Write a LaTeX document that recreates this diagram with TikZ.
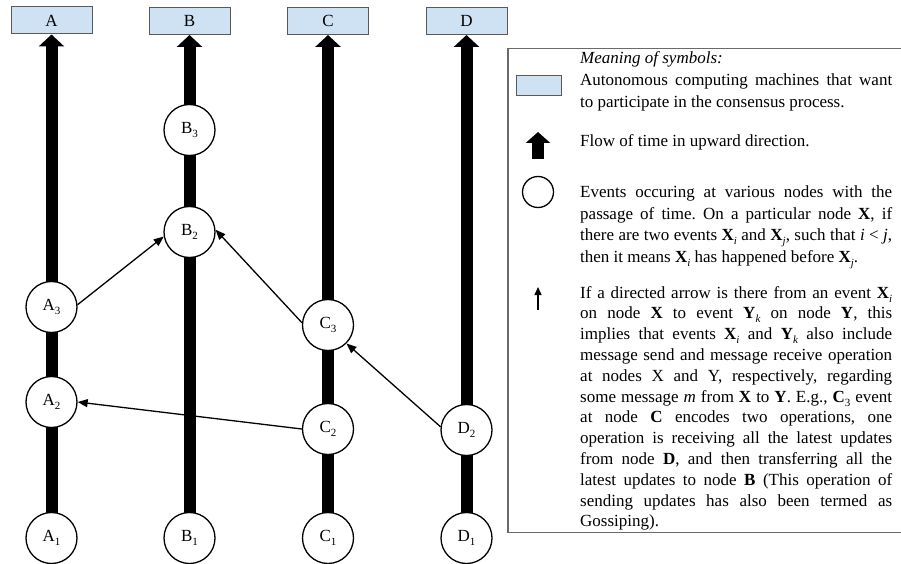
\documentclass[tikz,border=0pt]{standalone}
\usepackage{fontspec}
\setmainfont{Liberation Serif}
\usetikzlibrary{arrows.meta}
\pgfdeclarelayer{bg}
\pgfsetlayers{bg,main}
\definecolor{boxblue}{HTML}{CFE2F3}
\definecolor{boxline}{HTML}{595959}
\definecolor{legline}{HTML}{6A6A6A}
\newcommand{\jl}[1]{\hbox to 312pt{#1}}
\newcommand{\lowsub}[1]{\raisebox{-4pt}{\fontsize{11}{11}\selectfont #1}}
\newcommand{\bx}[2]{\textbf{#1}\lowsub{\textit{#2}}}
\frenchspacing
\tikzset{
  txt/.style={font=\fontsize{17}{21.5}\selectfont},
  machine/.style={draw=boxline, line width=1pt, fill=boxblue, minimum width=81pt, minimum height=27pt, inner sep=0pt, txt},
  event/.style={circle, draw=black, line width=1.3pt, fill=white, minimum size=51pt, inner sep=0pt, txt},
  timeflow/.style={line width=12pt, -{Triangle[length=12pt,width=25pt]}},
  msg/.style={line width=1.3pt, -{Triangle[length=10pt,width=8pt]}},
  legtext/.style={anchor=base west, inner sep=0pt, txt, align=left}
}
\begin{document}
\begin{tikzpicture}[x=1pt,y=-1pt]
\useasboundingbox (0,0) rectangle (901,564);
% machines
\node[machine] (mA) at (51.5,20.5) {A};
\node[machine] (mB) at (189.5,21) {B};
\node[machine] (mC) at (328,21) {C};
\node[machine] (mD) at (466.5,21) {D};
% events
\node[event] (A1) at (51.5,538) {A\lowsub{1}};
\node[event] (A2) at (51.5,402) {A\lowsub{2}};
\node[event] (A3) at (51.5,307) {A\lowsub{3}};
\node[event] (B1) at (189.5,538) {B\lowsub{1}};
\node[event] (B2) at (189.5,232) {B\lowsub{2}};
\node[event] (B3) at (189.5,130) {B\lowsub{3}};
\node[event] (C1) at (328,538) {C\lowsub{1}};
\node[event] (C2) at (328,429) {C\lowsub{2}};
\node[event] (C3) at (328,325) {C\lowsub{3}};
\node[event] (D1) at (466.5,538) {D\lowsub{1}};
\node[event] (D2) at (466.5,430) {D\lowsub{2}};
% time flow
\begin{pgfonlayer}{bg}
\draw[timeflow] (A1.center) -- (mA.south);
\draw[timeflow] (B1.center) -- (mB.south);
\draw[timeflow] (C1.center) -- (mC.south);
\draw[timeflow] (D1.center) -- (mD.south);
\end{pgfonlayer}
% messages
\draw[msg] (A3.5) -- (B2.190);
\draw[msg] (C3.175) -- (B2.5);
\draw[msg] (C2.west) -- (A2.east);
\draw[msg] (D2.173) -- (C3.-45);
% legend frame
\draw[legline, line width=1.2pt] (901,48.5) -- (508,48.5) -- (508,532.5) -- (901,532.5);
% legend symbols
\node[machine, minimum width=45pt, minimum height=20pt] (lbox) at (538.5,86) {};
\coordinate (lt1) at (538,159);
\coordinate (lt2) at (538,132);
\draw[line width=12pt, -{Triangle[length=11pt,width=24pt]}] (lt1) -- (lt2);
\node[circle, draw, line width=1.3pt, minimum size=31pt, inner sep=0pt] (lcirc) at (538,192) {};
\coordinate (lm1) at (538,310);
\coordinate (lm2) at (538,287);
\draw[msg, -{Triangle[length=8pt,width=7pt]}] (lm1) -- (lm2);
% legend texts
\node[legtext] (t0) at (580,64) {\textit{Meaning of symbols:}};
\node[legtext] (t1) at (580,86) {\vtop{\baselineskip=21.5pt\lineskiplimit=-20pt
\jl{Autonomous computing machines that want}
\hbox{to participate in the consensus process.}}};
\node[legtext] (t2) at (580,147) {Flow of time in upward direction.};
\node[legtext] (t3) at (580,197.5) {\vtop{\baselineskip=21.5pt\lineskiplimit=-20pt
\jl{Events occuring at various nodes with the}
\jl{passage of time. On a particular node \textbf{X}, if}
\jl{there are two events \bx{X}{i} and \bx{X}{j}, such that \textit{i} < \textit{j},}
\hbox{then it means \bx{X}{i} has happened before \bx{X}{j}.}}};
\node[legtext] (t4) at (580,298) {\vtop{\baselineskip=20.8pt\lineskiplimit=-20pt
\jl{If a directed arrow is there from an event \bx{X}{i}}
\jl{on node \textbf{X} to event \bx{Y}{k} on node \textbf{Y}, this}
\jl{implies that events \bx{X}{i} and \bx{Y}{k} also include}
\jl{message send and message receive operation}
\jl{at nodes X and Y, respectively, regarding}
\jl{some message \textit{m} from \textbf{X} to \textbf{Y}. E.g., \textbf{C}\lowsub{3} event}
\jl{at node \textbf{C} encodes two operations, one}
\jl{operation is receiving all the latest updates}
\jl{from node \textbf{D}, and then transferring all the}
\jl{latest updates to node \textbf{B} (This operation of}
\jl{sending updates has also been termed as}
\hbox{Gossiping).}}};
\end{tikzpicture}
\end{document}
